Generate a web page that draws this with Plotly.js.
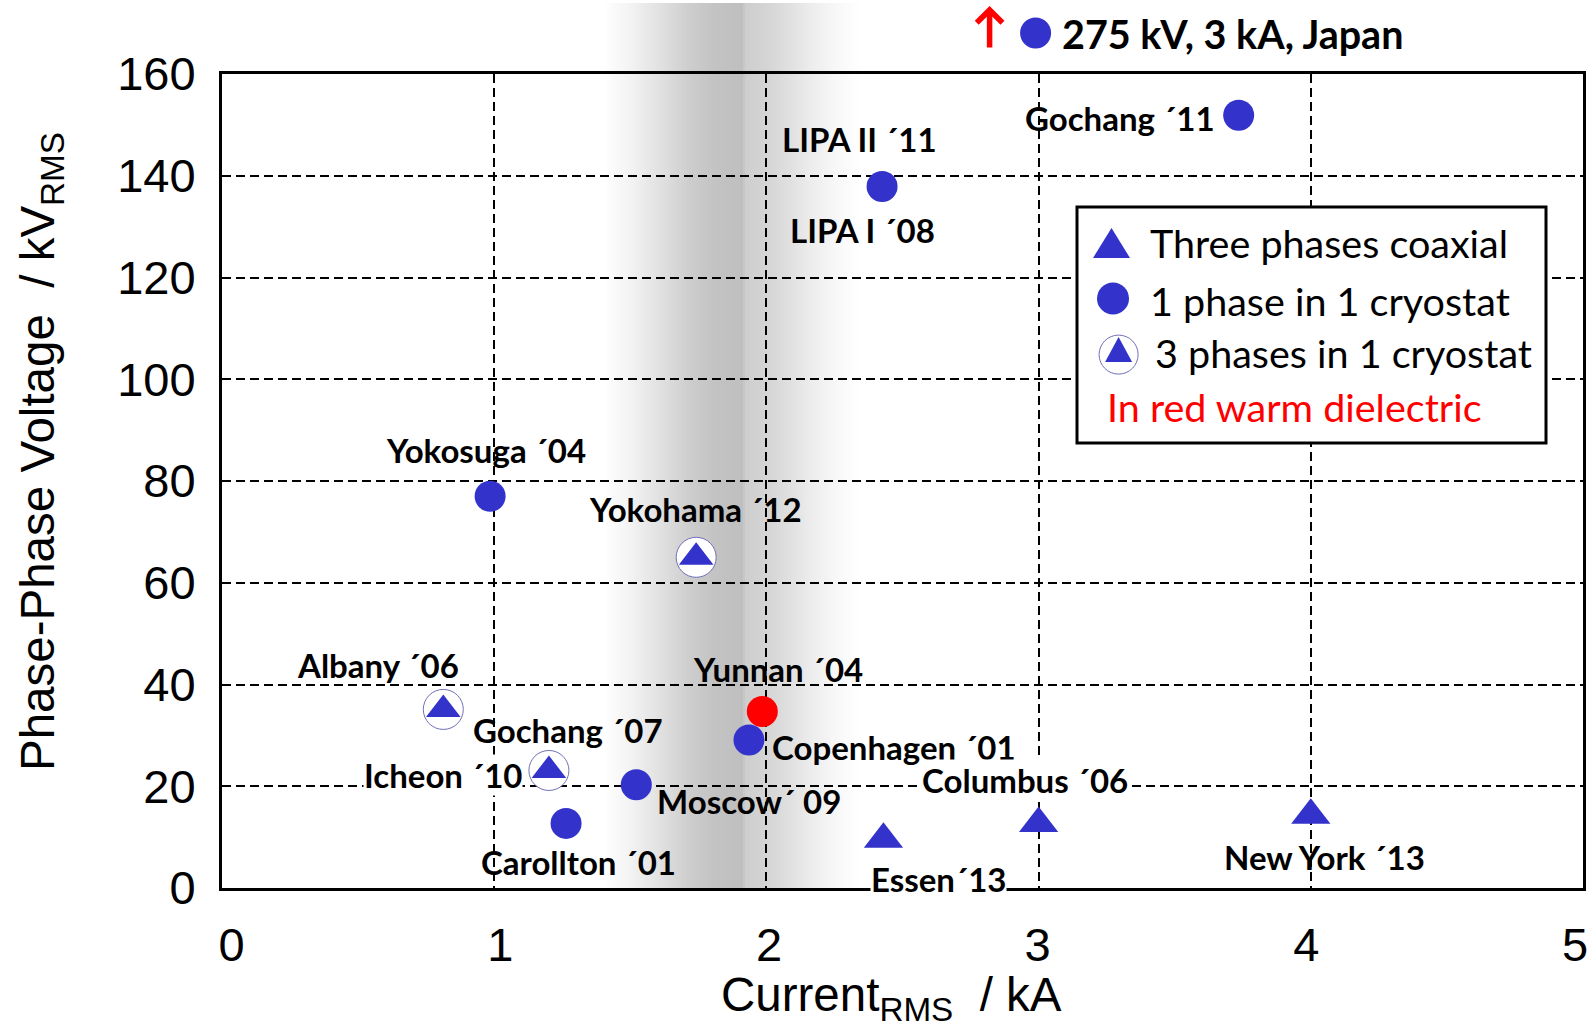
<!DOCTYPE html>
<html><head><meta charset="utf-8">
<script src="https://cdn.plot.ly/plotly-3.0.1.min.js"></script>
<style>html,body{margin:0;padding:0;background:#fff}#chart{width:1593px;height:1027px}</style>
</head><body><div id="chart"></div>
<script>
// ---------------- DATA ----------------
// Three phases coaxial (triangles)
const coaxialNames   = ["Essen´13", "Columbus ´06", "New York ´13"];
const coaxialCurrent = [2.43, 3.0, 4.0];      // kA
const coaxialVoltage = [9.6, 12.7, 14.3];     // kV

// 1 phase in 1 cryostat (circles)
const singleNames   = ["Yokosuga ´04", "LIPA I ´08 / LIPA II ´11", "Gochang ´11", "Carollton ´01", "Moscow´ 09", "Copenhagen ´01"];
const singleCurrent = [0.985, 2.425, 3.735, 1.264, 1.522, 1.936];
const singleVoltage = [77.0, 137.9, 151.9, 12.7, 20.3, 29.1];

// 3 phases in 1 cryostat (triangle in circle)
const triNames   = ["Yokohama ´12", "Albany ´06", "Gochang ´07 / Icheon ´10"];
const triCurrent = [1.742, 0.813, 1.201];
const triVoltage = [65.0, 35.1, 23.1];

// Warm dielectric (red)
const warmNames   = ["Yunnan ´04"];
const warmCurrent = [1.985];
const warmVoltage = [34.7];

// Off-scale project shown above the chart (275 kV does not fit the 0-160 axis)
const japanCurrent = [3.0];
const japanText = "275 kV, 3 kA, Japan";

const xTickVals = [0, 1, 2, 3, 4, 5];
const yTickVals = [0, 20, 40, 60, 80, 100, 120, 140, 160];

const xTitle = "Current<sub>RMS</sub>  / kA";
const yTitle = "Phase-Phase Voltage  / kV<sub>RMS</sub>";
const legendTexts = ["Three phases coaxial", "1 phase in 1 cryostat", "3 phases in 1 cryostat", "In red warm dielectric"];

// ---------------- STYLE / PLACEMENT ----------------
const BLUE = '#3333cc';
const series = {
  coax:   {x: coaxialCurrent, y: coaxialVoltage},
  single: {x: singleCurrent,  y: singleVoltage},
  tri:    {x: triCurrent,     y: triVoltage},
  warm:   {x: warmCurrent,    y: warmVoltage}
};
// label placement: [text, series, index, dx(px), dy(px, down+), whiteBg]
const labelPlacement = [
  ["Yokosuga ´04",   'single', 0,   -4, -46, false],
  ["LIPA II ´11",    'single', 1,  -23, -47, false],
  ["LIPA I ´08",     'single', 1,  -20,  44, false],
  ["Gochang ´11",    'single', 2, -119,   3, false],
  ["Carollton ´01",  'single', 3,   12,  39, false],
  ["Moscow´ 09",     'single', 4,  113,  16, false],
  ["Copenhagen ´01", 'single', 5,  145,   7, false],
  ["Yokohama ´12",   'tri',    0,   -1, -48, false],
  ["Albany ´06",     'tri',    1,  -65, -44, false],
  ["Gochang ´07",    'tri',    2,   19, -40, false],
  ["Icheon ´10",     'tri',    2, -106,   5, true],
  ["Yunnan ´04",     'warm',   0,   16, -42, false],
  ["Essen´13",       'coax',   0,   55,  40, true],
  ["Columbus ´06",   'coax',   1,  -14, -43, true],
  ["New York ´13",   'coax',   2,   14,  42, false]
];

const W = 1593, H = 1027;
const M = {l: 222, r: 10, t: 74, b: 139};
const PW = W - M.l - M.r, PH = H - M.t - M.b;
const pxToPaperX = px => (px - M.l) / PW;
const pxToPaperY = py => (H - M.b - py) / PH;

const LATO = 'Lato, "Open Sans", sans-serif';
const ARIAL = '"Liberation Sans", Arial, sans-serif';
const labelFont = {family: LATO, size: 33, color: '#000', weight: 700};
const legendFont = {family: LATO, size: 39.5, color: '#000'};

// ---------------- TRACES ----------------
const traces = [
  {type: 'scatter', mode: 'markers', name: legendTexts[0], text: coaxialNames,
   x: coaxialCurrent, y: coaxialVoltage,
   marker: {symbol: 'triangle-up', size: 34, color: BLUE, line: {width: 0}}},
  {type: 'scatter', mode: 'markers', name: legendTexts[1], text: singleNames,
   x: singleCurrent, y: singleVoltage,
   marker: {symbol: 'circle', size: 31, color: BLUE, line: {width: 0}}},
  {type: 'scatter', mode: 'markers', name: legendTexts[2] + ' (ring)', text: triNames,
   x: triCurrent, y: triVoltage,
   marker: {symbol: 'circle', size: 40, color: '#ffffff', line: {width: 1, color: '#7070b8'}}},
  {type: 'scatter', mode: 'markers', name: legendTexts[2], text: triNames,
   x: triCurrent, y: triVoltage,
   marker: {symbol: 'triangle-up', size: 30, color: BLUE, line: {width: 0}}},
  {type: 'scatter', mode: 'markers', name: 'warm dielectric', text: warmNames,
   x: warmCurrent, y: warmVoltage,
   marker: {symbol: 'circle', size: 31, color: '#ff0000', line: {width: 0}}},
  // carrier for the tick-label axis (labels in the original sit slightly inside the grid ends)
  {type: 'scatter', mode: 'markers', x: [], y: [], xaxis: 'x2', yaxis: 'y', showlegend: false, hoverinfo: 'skip'}
];

// ---------------- SHAPES ----------------
// grey gradient band (pixel x -> grey level)
const bandProfile = [[603,255],[630,243],[660,225],[690,205],[715,195],[742,191],[746,206],[765,212],[790,224],[810,236],[835,247],[860,255]];
function grayAt(px) {
  for (let i = 0; i < bandProfile.length - 1; i++) {
    const [a, ga] = bandProfile[i], [b, gb] = bandProfile[i + 1];
    if (px >= a && px <= b) return Math.round(ga + (gb - ga) * (px - a) / (b - a));
  }
  return 255;
}
const shapes = [];
for (let px = 603; px < 860; px += 2) {
  const g = grayAt(px + 1);
  shapes.push({type: 'rect', xref: 'paper', yref: 'paper', layer: 'below',
    x0: pxToPaperX(px), x1: pxToPaperX(px + 2.3), y0: 0, y1: pxToPaperY(3),
    fillcolor: `rgb(${g},${g},${g})`, line: {width: 0}});
}
// legend box
shapes.push({type: 'rect', xref: 'paper', yref: 'paper', layer: 'above',
  x0: pxToPaperX(1077), x1: pxToPaperX(1546), y0: pxToPaperY(443), y1: pxToPaperY(207),
  fillcolor: '#ffffff', line: {color: '#000', width: 3}});
// legend symbols (pixel-sized, anchored in paper space)
function pixShape(type, cx, cy, extra) {
  return Object.assign({type: type, layer: 'above',
    xref: 'paper', yref: 'paper', xsizemode: 'pixel', ysizemode: 'pixel',
    xanchor: pxToPaperX(cx), yanchor: pxToPaperY(cy), line: {width: 0}}, extra);
}
shapes.push(pixShape('path', 1111.5, 243, {path: 'M-18.5,-15L18.5,-15L0,15Z', fillcolor: BLUE}));
shapes.push(pixShape('circle', 1113, 298.5, {x0: -16, x1: 16, y0: -16, y1: 16, fillcolor: BLUE}));
shapes.push(pixShape('circle', 1118.6, 354.6, {x0: -19.5, x1: 19.5, y0: -19.5, y1: 19.5, fillcolor: '#ffffff', line: {width: 1, color: '#7070b8'}}));
shapes.push(pixShape('path', 1118.6, 349.5, {path: 'M-13.5,-12.5L13.5,-12.5L0,12.5Z', fillcolor: BLUE}));
// off-scale Japan point above the plot, anchored at its current on the x axis
shapes.push({type: 'circle', layer: 'above', xref: 'x', yref: 'paper',
  xsizemode: 'pixel', ysizemode: 'pixel', xanchor: japanCurrent[0], yanchor: pxToPaperY(33),
  x0: -18.5, x1: 12.5, y0: -15.5, y1: 15.5, fillcolor: BLUE, line: {width: 0}});

// ---------------- ANNOTATIONS ----------------
const annotations = labelPlacement.map(([t, s, i, dx, dy, bg]) => ({
  text: t, x: series[s].x[i], y: series[s].y[i], xref: 'x', yref: 'y',
  showarrow: false, xanchor: 'center', yanchor: 'middle',
  xshift: dx, yshift: -dy, font: labelFont,
  bgcolor: bg ? '#ffffff' : 'rgba(0,0,0,0)', borderpad: 0
}));
// legend texts
const legendTextPos = [[1148, 243], [1148, 300], [1153, 352], [1105, 406]];
legendTexts.forEach((t, i) => {
  annotations.push({text: t, xref: 'paper', yref: 'paper',
    x: pxToPaperX(legendTextPos[i][0]), y: pxToPaperY(legendTextPos[i][1]),
    xanchor: 'left', yanchor: 'middle', showarrow: false,
    font: Object.assign({}, legendFont, {color: i === 3 ? '#ff0000' : '#000'})});
});
// top Japan text and arrow
annotations.push({text: japanText, xref: 'x', yref: 'paper', x: japanCurrent[0],
  y: pxToPaperY(33), xanchor: 'left', yanchor: 'middle', xshift: 21, showarrow: false,
  font: {family: LATO, size: 39.5, color: '#000', weight: 700}});
annotations.push({text: '', xref: 'x', yref: 'paper', x: japanCurrent[0], xshift: -49,
  y: pxToPaperY(6), showarrow: true, ax: 0, ay: 43, arrowhead: 4, arrowsize: 0.9,
  arrowwidth: 5.5, arrowcolor: '#ff0000', standoff: 0});
// axis titles
annotations.push({text: xTitle, xref: 'paper', yref: 'paper', x: pxToPaperX(891), y: pxToPaperY(998),
  xanchor: 'center', yanchor: 'middle', showarrow: false, font: {family: ARIAL, size: 47.5, color: '#000'}});
annotations.push({text: yTitle, xref: 'paper', yref: 'paper', x: pxToPaperX(41), y: pxToPaperY(452),
  xanchor: 'center', yanchor: 'middle', textangle: -90, showarrow: false, font: {family: ARIAL, size: 47.5, color: '#000'}});

// ---------------- LAYOUT ----------------
const tickFont = {family: ARIAL, size: 47, color: '#000'};
// tick-label axis: value 0 sits at 231.6 px and value 5 at 1575 px, as in the original
const lab0 = (231.6 - M.l) / PW, lab5 = (1575 - M.l) / PW;
const span = 5 / (lab5 - lab0);
const x2Range = [-lab0 * span, -lab0 * span + span];
const layout = {
  width: W, height: H, margin: M,
  paper_bgcolor: '#ffffff', plot_bgcolor: 'rgba(0,0,0,0)',
  showlegend: false,
  xaxis: {range: [0, 5], tickvals: xTickVals,
    showgrid: true, gridcolor: '#000', gridwidth: 2, griddash: '9px,5px',
    zeroline: false, showline: true, mirror: true, linecolor: '#000', linewidth: 3,
    ticks: '', showticklabels: false},
  xaxis2: {overlaying: 'x', anchor: 'y', side: 'bottom', range: x2Range,
    tickvals: xTickVals, ticktext: xTickVals.map(String),
    showgrid: false, zeroline: false, showline: false, ticks: '',
    tickfont: tickFont, ticklabelstandoff: 25, ticklabeloverflow: 'allow'},
  yaxis: {range: [0, 160], tickvals: yTickVals, ticktext: yTickVals.map(String),
    showgrid: true, gridcolor: '#000', gridwidth: 2, griddash: '9px,5px',
    zeroline: false, showline: true, mirror: true, linecolor: '#000', linewidth: 3,
    ticks: '', tickfont: tickFont, ticklabelstandoff: 14, ticklabeloverflow: 'allow'},
  shapes: shapes,
  annotations: annotations
};

Plotly.newPlot('chart', traces, layout, {displayModeBar: false, staticPlot: true});
</script>
</body></html>
